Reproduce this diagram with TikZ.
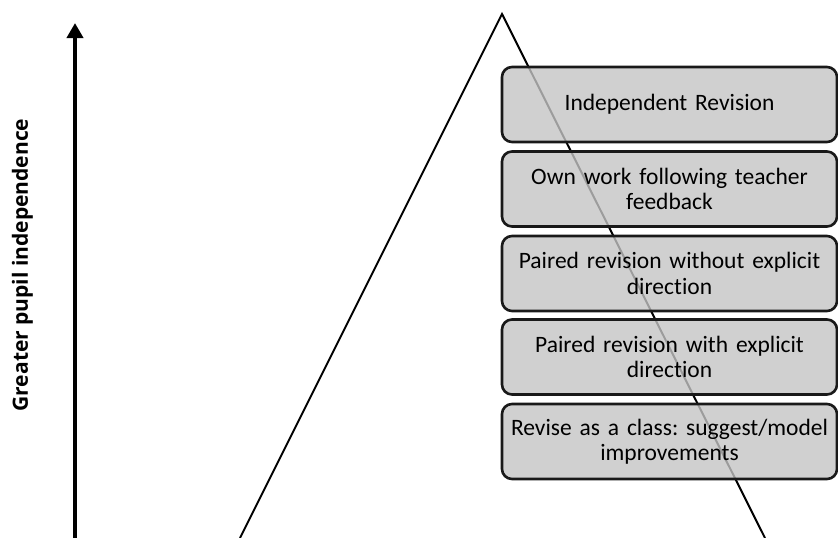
\documentclass[tikz,border=0pt]{standalone}
\usepackage{fontspec}
\setmainfont{Carlito}[Ligatures=NoCommon]
\newfontfamily\labelfont{Open Sans}
\frenchspacing
\usetikzlibrary{arrows.meta}
\tikzset{
  stagebox/.style={draw=black!90, line width=2.6pt, rounded corners=10pt, fill=black!23, fill opacity=0.8, text opacity=1,
    minimum width=335pt, minimum height=75pt, align=center, text width=330pt, inner sep=0pt,
    font=\fontsize{23.5pt}{25.5pt}\selectfont},
  tri/.style={line width=2pt, line join=miter},
  axis/.style={line width=4pt, -{Triangle[width=16pt,length=15pt]}}
}
\begin{document}
\begin{tikzpicture}[x=1pt,y=-1pt]
\useasboundingbox (0,0) rectangle (838,538);
\coordinate (bl) at (240,538);
\coordinate (apex) at (502,14);
\coordinate (br) at (765,538);
\draw[tri] (bl) -- (apex) -- (br);
\coordinate (ab) at (75,540);
\coordinate (at) at (75,23);
\draw[axis] (ab) -- (at);
\node[rotate=90, font=\labelfont\bfseries\fontsize{21pt}{24pt}\selectfont] (lbl) at (22.5,265) {Greater pupil independence};
\node[stagebox] (s1) at (669.5,104.5) {Independent Revision};
\node[stagebox] (s2) at (669.5,189) {Own work following teacher\\feedback};
\node[stagebox] (s3) at (669.5,273.5) {Paired revision without explicit\\direction};
\node[stagebox] (s4) at (669.5,357) {Paired revision with explicit\\direction};
\node[stagebox] (s5) at (669.5,441.5) {Revise as a class: suggest/model\\improvements};
\end{tikzpicture}
\end{document}
